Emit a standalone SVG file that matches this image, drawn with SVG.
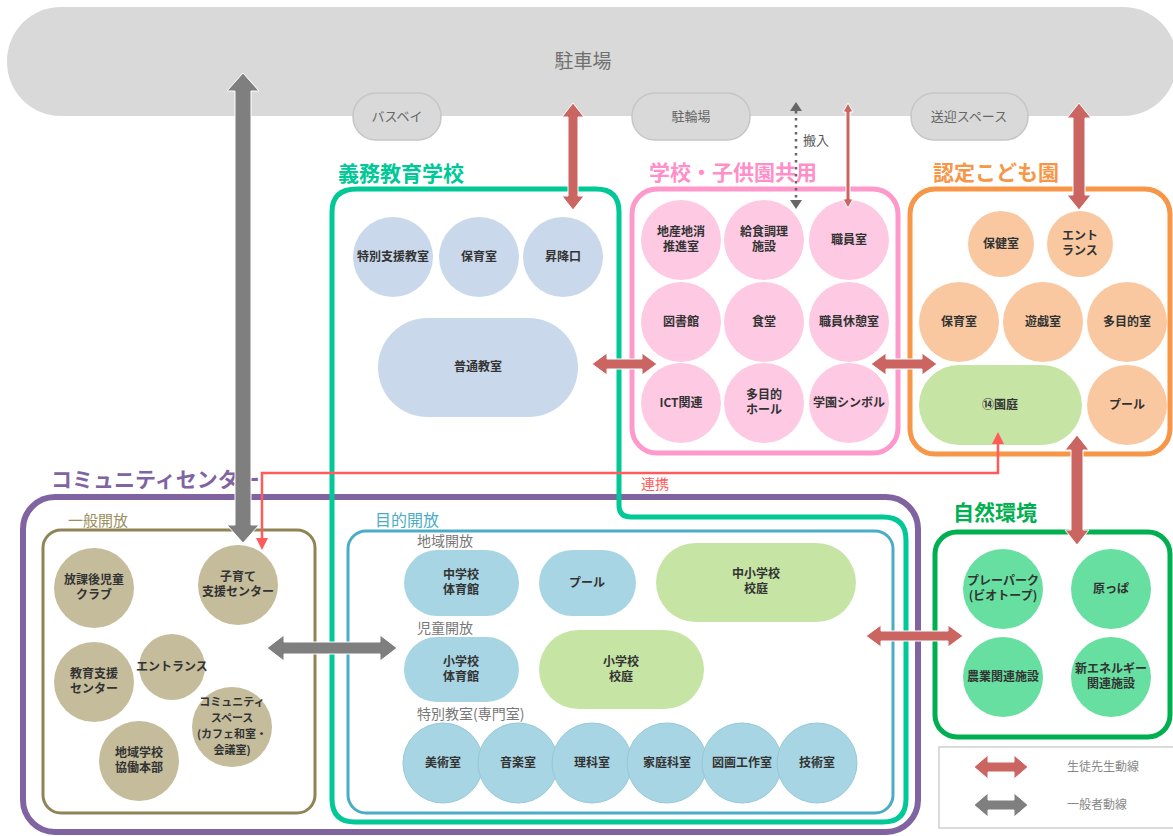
<svg xmlns="http://www.w3.org/2000/svg" width="1173" height="836" viewBox="0 0 1173 836">
<style>
text{font-family:"Noto Sans CJK JP","Noto Sans",sans-serif}
.lb{font-size:12px;font-weight:700;fill:#333;text-anchor:middle}
.sm{font-size:11px}
.tt{font-size:21px;font-weight:700}
.sub{font-size:14px;fill:#777}
.pill{fill:#d9d9d9;stroke:#c6c6c6;stroke-width:1.5}
.pt{font-size:13px;fill:#666;text-anchor:middle}
.gk{fill:#c9d9eb}
.pk{fill:#fdc9e3}
.or{fill:#f9c8a0}
.lg{fill:#c6e5a5}
.ol{fill:#c4bc9b}
.cy{fill:#a7d5e3}
.cy2{fill:#a7d5e3;stroke:#93c9d9;stroke-width:1}
.na{fill:#66dfa0}
.ra{fill:#cb6562;stroke:#fff;stroke-width:1}
.ga{fill:#7f7f7f;stroke:#fff;stroke-width:1}
</style>
<rect width="1173" height="836" fill="#fff"/>

<g id="parking">
<rect x="7" y="7" width="1170" height="109" rx="54" fill="#d9d9d9"/>
<text x="583" y="68" font-size="19" fill="#707070" text-anchor="middle">駐車場</text>
</g>
<g id="busbay"><rect class="pill" x="353" y="93" width="88" height="47" rx="23"/><text class="pt" x="397" y="121">バスベイ</text></g>
<g id="bicycle"><rect class="pill" x="632" y="93" width="118" height="47" rx="23"/><text class="pt" x="691" y="121">駐輪場</text></g>
<g id="pickup"><rect class="pill" x="911" y="93" width="117" height="47" rx="23"/><text class="pt" x="969" y="121">送迎スペース</text></g>

<g id="community-center">
<rect x="23" y="497" width="895" height="335" rx="32" fill="none" stroke="#8064a2" stroke-width="6"/>
<text class="tt" x="51" y="487" fill="#8064a2" font-size="20">コミュニティセンター</text>
</g>

<g id="compulsory-school">
<path d="M357 189 H596 Q619 189 619 212 V505 Q619 517 631 517 H883 Q906 517 906 540 V799 Q906 822 883 822 H355 Q332 822 332 799 V212 Q332 189 357 189 Z" fill="none" stroke="#00c896" stroke-width="5"/>
<text class="tt" x="338" y="181" fill="#00c896">義務教育学校</text>
</g>
<g id="tokubetsu"><circle class="gk" cx="393" cy="257" r="40"/><text class="lb" x="393" y="261">特別支援教室</text></g>
<g id="hoikushitsu1"><circle class="gk" cx="479" cy="257" r="40"/><text class="lb" x="479" y="261">保育室</text></g>
<g id="shokoguchi"><circle class="gk" cx="563" cy="257" r="40"/><text class="lb" x="563" y="261">昇降口</text></g>
<g id="futsu"><rect class="gk" x="378" y="318" width="200" height="99" rx="49.5"/><text class="lb" x="478" y="371">普通教室</text></g>

<g id="shared">
<rect x="632" y="189" width="266" height="264" rx="25" fill="none" stroke="#ff99cc" stroke-width="5"/>
<text class="tt" x="649" y="180" fill="#ff8fc8">学校・子供園共用</text>
</g>
<g id="chisan"><circle class="pk" cx="681" cy="240" r="40"/><text class="lb" x="681" y="236">地産地消</text><text class="lb" x="681" y="251">推進室</text></g>
<g id="kyushoku"><circle class="pk" cx="764" cy="240" r="40"/><text class="lb" x="764" y="236">給食調理</text><text class="lb" x="764" y="251">施設</text></g>
<g id="shokuin"><circle class="pk" cx="849" cy="240" r="40"/><text class="lb" x="849" y="244">職員室</text></g>
<g id="tosho"><circle class="pk" cx="681" cy="322" r="40"/><text class="lb" x="681" y="326">図書館</text></g>
<g id="shokudo"><circle class="pk" cx="764" cy="322" r="40"/><text class="lb" x="764" y="326">食堂</text></g>
<g id="kyukei"><circle class="pk" cx="849" cy="322" r="40"/><text class="lb" x="849" y="326">職員休憩室</text></g>
<g id="ict"><circle class="pk" cx="681" cy="403" r="40"/><text class="lb" x="681" y="407">ICT関連</text></g>
<g id="hall"><circle class="pk" cx="764" cy="403" r="40"/><text class="lb" x="764" y="399">多目的</text><text class="lb" x="764" y="414">ホール</text></g>
<g id="symbol"><circle class="pk" cx="849" cy="403" r="40"/><text class="lb" x="849" y="407">学園シンボル</text></g>

<g id="kodomoen">
<rect x="910" y="189" width="260" height="265" rx="25" fill="none" stroke="#f79646" stroke-width="5"/>
<text class="tt" x="933" y="180" fill="#f79646">認定こども園</text>
</g>
<g id="hoken"><circle class="or" cx="1001" cy="244" r="33"/><text class="lb" x="1001" y="248">保健室</text></g>
<g id="entrance-k"><circle class="or" cx="1080" cy="244" r="33"/><text class="lb" x="1080" y="240">エント</text><text class="lb" x="1080" y="255">ランス</text></g>
<g id="hoikushitsu2"><circle class="or" cx="959" cy="322" r="40"/><text class="lb" x="959" y="326">保育室</text></g>
<g id="yugi"><circle class="or" cx="1043" cy="322" r="40"/><text class="lb" x="1043" y="326">遊戯室</text></g>
<g id="tamokuteki"><circle class="or" cx="1127" cy="322" r="40"/><text class="lb" x="1127" y="326">多目的室</text></g>
<g id="entei"><rect class="lg" x="919" y="365" width="163" height="80" rx="40"/><text class="lb" x="1000" y="409">⑭園庭</text></g>
<g id="pool-k"><circle class="or" cx="1127" cy="405" r="40"/><text class="lb" x="1127" y="409">プール</text></g>

<g id="general-open">
<rect x="43" y="530" width="272" height="283" rx="18" fill="none" stroke="#8f8455" stroke-width="3"/>
<text x="68" y="526" font-size="15" fill="#9b8f60">一般開放</text>
</g>
<g id="houkago"><circle class="ol" cx="94" cy="588" r="40"/><text class="lb" x="94" y="584">放課後児童</text><text class="lb" x="94" y="599">クラブ</text></g>
<g id="kosodate"><circle class="ol" cx="238" cy="585" r="40"/><text class="lb" x="238" y="581">子育て</text><text class="lb" x="238" y="596">支援センター</text></g>
<g id="kyoiku-shien"><circle class="ol" cx="94" cy="682" r="40"/><text class="lb" x="94" y="678">教育支援</text><text class="lb" x="94" y="693">センター</text></g>
<g id="entrance-c"><circle class="ol" cx="172" cy="667" r="33"/><text class="lb" x="172" y="671">エントランス</text></g>
<g id="community-space"><circle class="ol" cx="232" cy="727" r="40"/><text class="lb sm" x="232" y="706">コミュニティ</text><text class="lb sm" x="232" y="722">スペース</text><text class="lb sm" x="232" y="738">(カフェ和室・</text><text class="lb sm" x="232" y="754">会議室)</text></g>
<g id="kyodo"><circle class="ol" cx="139" cy="761" r="40"/><text class="lb" x="139" y="757">地域学校</text><text class="lb" x="139" y="772">協働本部</text></g>

<g id="purpose-open">
<rect x="348" y="531" width="545" height="282" rx="18" fill="none" stroke="#4bacc6" stroke-width="3"/>
<text x="375" y="526" font-size="16" fill="#4bacc6">目的開放</text>
<text class="sub" x="417" y="546">地域開放</text>
<text class="sub" x="417" y="633">児童開放</text>
<text class="sub" x="417" y="719">特別教室(専門室)</text>
</g>
<g id="chu-gym"><rect class="cy" x="404" y="550" width="115" height="66" rx="33"/><text class="lb" x="461" y="579">中学校</text><text class="lb" x="461" y="594">体育館</text></g>
<g id="pool-s"><rect class="cy" x="539" y="550" width="97" height="66" rx="33"/><text class="lb" x="587" y="587">プール</text></g>
<g id="chusho-kotei"><rect class="lg" x="656" y="543" width="200" height="79" rx="39.5"/><text class="lb" x="756" y="578">中小学校</text><text class="lb" x="756" y="593">校庭</text></g>
<g id="sho-gym"><rect class="cy" x="404" y="637" width="115" height="65" rx="32.5"/><text class="lb" x="461" y="666">小学校</text><text class="lb" x="461" y="681">体育館</text></g>
<g id="sho-kotei"><rect class="lg" x="539" y="630" width="165" height="79" rx="39.5"/><text class="lb" x="621" y="666">小学校</text><text class="lb" x="621" y="681">校庭</text></g>
<g id="bijutsu"><circle class="cy2" cx="443" cy="763" r="40"/><text class="lb" x="443" y="767">美術室</text></g>
<g id="ongaku"><circle class="cy2" cx="518" cy="763" r="40"/><text class="lb" x="518" y="767">音楽室</text></g>
<g id="rika"><circle class="cy2" cx="592" cy="763" r="40"/><text class="lb" x="592" y="767">理科室</text></g>
<g id="katei"><circle class="cy2" cx="667" cy="763" r="40"/><text class="lb" x="667" y="767">家庭科室</text></g>
<g id="zuga"><circle class="cy2" cx="742" cy="763" r="40"/><text class="lb" x="742" y="767">図画工作室</text></g>
<g id="gijutsu"><circle class="cy2" cx="817" cy="763" r="40"/><text class="lb" x="817" y="767">技術室</text></g>

<g id="nature">
<rect x="935" y="532" width="235" height="205" rx="22" fill="none" stroke="#00b050" stroke-width="5"/>
<text class="tt" x="953" y="520" fill="#00b050">自然環境</text>
</g>
<g id="playpark"><circle class="na" cx="1003" cy="589" r="40"/><text class="lb" x="1003" y="585">プレーパーク</text><text class="lb" x="1003" y="600">(ビオトープ)</text></g>
<g id="harappa"><circle class="na" cx="1111" cy="589" r="40"/><text class="lb" x="1111" y="593">原っぱ</text></g>
<g id="nogyo"><circle class="na" cx="1003" cy="677" r="40"/><text class="lb" x="1003" y="681">農業関連施設</text></g>
<g id="energy"><circle class="na" cx="1111" cy="677" r="40"/><text class="lb" x="1111" y="673">新エネルギー</text><text class="lb" x="1111" y="688">関連施設</text></g>

<g id="legend">
<rect x="939" y="747" width="240" height="81" fill="#fff" stroke="#d0d0d0" stroke-width="1.5"/>
<polygon class="ra" points="974,767 988,755 988,762 1014,762 1014,755 1028,767 1014,779 1014,772 988,772 988,779"/>
<polygon class="ga" points="974,805 988,793 988,800 1014,800 1014,793 1028,805 1014,817 1014,810 988,810 988,817"/>
<text x="1067" y="771" font-size="12" fill="#888">生徒先生動線</text>
<text x="1067" y="809" font-size="12" fill="#888">一般者動線</text>
</g>

<g id="connectors">
<polygon class="ga" points="243,73 259,91 251,91 251,525 259,525 243,543 227,525 235,525 235,91 227,91"/>
<polygon class="ga" points="267,648 284,635 284,642 380,642 380,635 397,648 380,661 380,654 284,654 284,661"/>
<polygon class="ra" points="573,103 584,117 578,117 578,196 584,196 573,210 562,196 568,196 568,117 562,117"/>
<polygon class="ra" points="848,103 853,112 850,112 850,199 853,199 848,208 843,199 846,199 846,112 843,112"/>
<polygon class="ra" points="1079,103 1091,118 1085,118 1085,195 1091,195 1079,210 1067,195 1073,195 1073,118 1067,118"/>
<polygon class="ra" points="1077,435 1089,450 1083,450 1083,530 1089,530 1077,545 1065,530 1071,530 1071,450 1065,450"/>
<polygon class="ra" points="592,364 607,353 607,359 642,359 642,353 657,364 642,375 642,369 607,369 607,375"/>
<polygon class="ra" points="871,364 886,353 886,359 922,359 922,353 937,364 922,375 922,369 886,369 886,375"/>
<polygon class="ra" points="866,636 881,625 881,631 948,631 948,625 963,636 948,647 948,641 881,641 881,647"/>
<line x1="796" y1="111" x2="796" y2="200" stroke="#666" stroke-width="2.5" stroke-dasharray="2.5 4.5"/>
<polygon points="796,102 802,111 790,111" fill="#666"/>
<polygon points="796,209 802,200 790,200" fill="#666"/>
<text x="803" y="145" font-size="13" fill="#555">搬入</text>
<polyline points="262,540 262,473 998,473 998,442" fill="none" stroke="#ff5b5b" stroke-width="2.5"/>
<polygon points="262,550 256,538 268,538" fill="#ff5b5b"/>
<polygon points="998,432 992,444 1004,444" fill="#ff5b5b"/>
<text x="641" y="489" font-size="14" fill="#ff5b5b">連携</text>
</g>
</svg>
